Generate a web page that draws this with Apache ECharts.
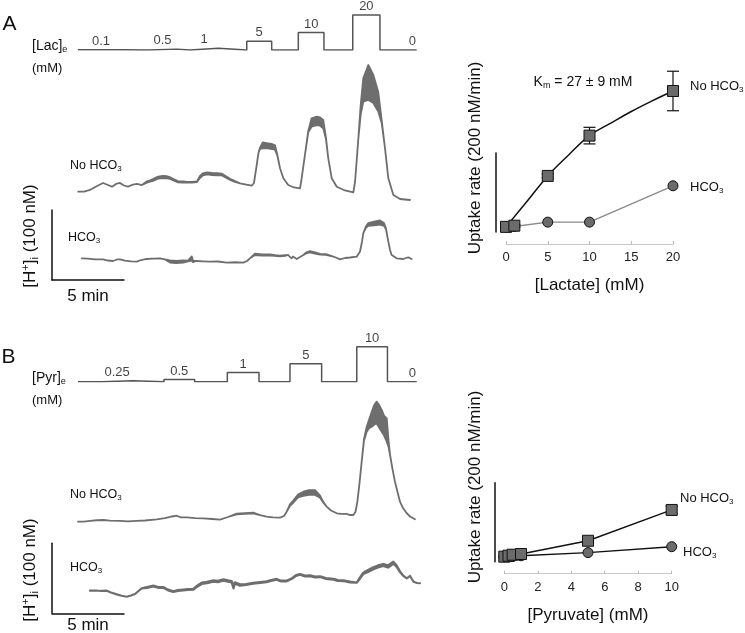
<!DOCTYPE html>
<html><head><meta charset="utf-8">
<script src="https://cdn.jsdelivr.net/npm/echarts/dist/echarts.min.js"></script>
<style>html,body{margin:0;padding:0;background:#fff}#c{width:745px;height:633px}</style>
</head><body><div id="c"></div>
<script>
// ---------- DATA ----------
// Panel A: lactate protocol (time in min, concentration in mM)
const lacStepTimes  = [0, 3.2, 4.88, 6.85, 7.78, 9.75, 11.72, 13.45, 15.3, 17.08, 19.08, 20.97, 23.52];
const lacStepLevels = [0.1, 0, 0.5, 0, 1, 0, 5, 0, 10, 0, 20, 0, 0];
const lacStepLabels = ['0.1', '', '0.5', '', '1', '', '5', '', '10', '', '20', '0'];
// Panel B: pyruvate protocol (drawn step heights)
const pyrStepTimes  = [0, 1.62, 3.82, 5.97, 8.1, 10.37, 12.57, 14.72, 16.92, 19.36, 21.49, 23.52];
const pyrStepLevels = [0, 0.3, 0, 0.6, 0, 2.6, 0, 5.1, 0, 10, 0, 0];
const pyrStepLabels = ['', '0.25', '', '0.5', '', '1', '', '5', '', '10', '0'];

// [H+]i traces: [time (min), [H+]i (nM, relative), noise half-band (nM)]
const lacNoHco3Trace = [[0.02,11.9,0],[0.42,12.1,0],[0.83,14.3,0],[1.32,20,0],[1.74,24.3,0],[2.08,21.4,0],[2.36,19,0],[2.64,22.9,0],[2.92,24.3,0],[3.19,20.7,0],[3.47,19,0],[3.82,22.1,0],[4.1,22.9,0],[4.44,21.4,0],[4.79,25.7,1],[5.0,27.1,1],[5.21,28.6,1.2],[5.56,31.9,1.5],[5.9,32.9,1.5],[6.18,32.4,1.5],[6.39,31.4,1.2],[6.67,28.6,1],[6.94,26.1,1],[7.29,25.7,1],[7.57,25.3,0.5],[7.92,25.3,0.5],[8.26,26.1,0.5],[8.47,32.9,1.5],[8.68,36.7,1.5],[8.96,38.1,1.5],[9.31,37.1,1.5],[9.65,36.7,1.5],[10.0,36.4,1.2],[10.28,32.9,1],[10.56,29.6,0.8],[10.9,26.4,0.5],[11.25,23.9,0],[11.6,22.4,0],[12.06,20.4,0],[12.22,24.3,0],[12.41,50,0],[12.53,67.1,0],[12.64,73.9,1],[12.83,78.1,4.3],[13.19,77.4,3.6],[13.47,76.4,3.6],[13.68,75,3.2],[13.84,64.3,0.5],[14.03,45.3,0],[14.26,31,0],[14.6,21.4,0],[15.0,17.9,0],[15.42,16.7,0],[15.53,31,0],[15.76,64.3,0],[15.99,97.6,1],[16.22,110.7,6],[16.58,113.1,6],[16.81,112.1,6],[17.03,108.3,6],[17.22,88.1,1],[17.38,59.6,0],[17.62,31,0],[17.97,19,0],[18.54,13.6,0],[19.12,11,0],[19.24,26.1,0],[19.47,88.1,0],[19.63,128.6,7],[19.81,157.1,16.7],[20.16,167.9,25],[20.51,158.6,20],[20.85,140.4,14],[21.09,111.9,2],[21.32,73.9,0],[21.55,31,0],[21.9,7.1,0],[22.36,1.4,0],[23.06,0,0]];
const lacHco3Trace = [[0.26,9.6,0],[0.69,9,0],[1.18,7.9,0],[1.74,8.1,0],[2.08,6.4,0],[2.43,5.7,0],[2.71,7.9,0],[2.92,8.1,0],[3.26,6.4,0],[3.68,5.3,0],[4.08,4.7,0],[4.38,7.1,0],[4.77,8.6,0],[5.21,9,0],[5.69,9.6,0],[6.04,7.9,0],[6.39,5,1.5],[6.81,4.3,1.5],[7.29,5,1.5],[7.64,5.7,0.5],[7.9,9.3,3],[7.99,5,1],[8.24,5.7,0],[8.68,5.3,0],[9.17,4.7,0],[9.72,5,0],[10.33,3.3,0],[10.9,3.9,0],[11.48,3.3,0],[11.74,5.7,0],[11.94,9.6,0],[12.29,15.3,1],[12.78,14.3,1],[13.33,14.3,1],[13.68,13.6,0.5],[14.03,12.9,0.5],[14.38,13.6,0.5],[14.6,14.3,0],[14.72,11.4,0],[14.84,9.6,0],[14.93,12.1,0],[15.19,8.6,0],[15.42,11.4,0],[15.65,14.3,0],[15.83,17.1,0.5],[16.11,19,1],[16.46,17.1,1],[16.81,15.3,0.5],[17.22,15,0.5],[17.73,11.9,0],[17.99,10,0],[18.19,8.1,0],[18.54,10,0],[18.89,10.7,0],[19.35,11.9,0],[19.58,19,0],[19.72,32.9,0],[19.81,45.3,0],[20.0,54.3,1],[20.16,57.9,2],[20.56,59.3,2.5],[20.97,60.7,3],[21.25,57.9,2],[21.39,51.4,0.5],[21.55,33.3,0],[21.67,21.4,0],[21.78,14.3,0],[22.13,9.6,0],[22.59,8.6,0],[22.78,10,0],[22.94,11,0],[23.17,8.6,0]];
const pyrNoHco3Trace = [[0,11.9,0],[0.42,12.1,0],[0.83,12.9,0],[1.32,13.9,0],[1.76,14.3,0],[2.22,13.3,0],[2.92,12.9,0],[3.47,12.4,0],[4.08,12.9,0],[4.65,13.6,0],[5.47,15.3,0],[6.04,17.1,0],[6.53,19.3,0],[6.85,20.4,0],[7.15,18.1,0],[7.55,18.1,0],[8.13,17.1,0],[8.7,16.7,0],[9.31,15.7,0],[9.86,14.7,0],[10.42,18.6,0],[11.02,22.9,0.5],[11.6,23.6,0.5],[12.17,24.3,0.5],[12.64,21.4,0],[13.1,19,0],[13.54,17.9,0],[14.03,17.6,0],[14.31,20,0],[14.49,26.1,0],[14.72,35.7,1],[14.95,40.4,1.5],[15.28,48.6,2],[15.65,51.7,3],[16.04,53.6,3.5],[16.46,53.6,3.5],[16.81,47.6,1.5],[17.01,40.4,0.5],[17.27,33.3,0],[17.57,27.9,0],[17.97,23.9,0],[18.26,22.9,0],[18.66,22.9,0],[18.89,21.4,0],[19.12,21.4,0],[19.27,26.1,0],[19.4,40.4,0],[19.55,67.1,0],[19.7,97.6,0],[19.86,128.6,1],[20.05,144,3.6],[20.21,151.4,6],[20.4,158.3,10.7],[20.56,164.3,14],[20.74,167.9,15.5],[20.9,162.9,16],[21.09,156,15.5],[21.25,149.3,14],[21.44,142.9,16.7],[21.56,124.3,5],[21.67,107.1,0],[21.84,87.1,0],[22.01,69,0],[22.19,54.3,0],[22.36,40.4,0],[22.57,31.4,0],[22.83,23.9,0],[23.06,19.3,0],[23.4,15.3,0]];
const pyrHco3Trace = [[0.83,13.3,0],[1.25,13.6,0],[1.6,12.9,0],[1.99,13.3,0],[2.29,10.7,0],[2.69,8.1,0],[3.03,6.1,0],[3.38,4.7,0],[3.68,6.4,0],[3.96,8.6,0],[4.2,12.9,0],[4.42,16.7,0],[4.79,17.9,0.5],[5.23,20,0.5],[5.56,17.9,0.5],[5.92,18.1,0.5],[6.25,14.3,0.5],[6.62,11.9,0.5],[6.94,13.6,0.5],[7.31,14.3,0.5],[7.64,15,0.5],[8.01,15.3,0.5],[8.3,20,1],[8.59,23.9,1],[8.96,25,1],[9.4,27.1,1],[9.72,26.4,1],[10.09,28.6,1],[10.42,27.1,1],[10.67,26.1,1],[10.8,18.6,2],[10.9,24.3,1],[11.25,21.4,1],[11.67,22.1,0.5],[12.17,23.9,0.5],[12.64,25,0.5],[13.1,26.1,0.5],[13.4,27.9,0.5],[13.8,29.6,0.5],[14.1,27.1,0.5],[14.49,27.1,0.5],[14.86,30.7,0.5],[15.14,35,0.5],[15.42,36.7,0.5],[15.76,34.3,0.5],[16.11,34.7,0.5],[16.46,32.9,0.5],[16.81,33.3,0.5],[17.22,30.7,0.5],[17.73,29.6,0.5],[18.06,27.9,0.5],[18.42,27.6,0.5],[18.89,25.7,0.5],[19.35,24.7,0],[19.58,31.4,1],[19.81,38.1,1],[20.14,41.4,1.5],[20.51,45.3,1.5],[20.83,47.9,1.5],[21.2,50,1.5],[21.53,47.9,1.5],[21.9,53.3,1.5],[22.12,48.6,1],[22.36,40.4,0.5],[22.57,35,0],[22.83,31,0],[23.06,34.3,0],[23.3,26.1,0],[23.54,24.3,0],[23.75,23.9,0]];

// Uptake rate vs concentration (nM/min)
const lacConc = [0, 1, 5, 10, 20];
const lacNoHco3Rate = [13, 16, 142, 244, 357];
const lacNoHco3Err  = [3, 3, 5, 21, 50];
const lacHco3Rate   = [13, 14, 25, 25, 117];
const lacTicks = [0, 5, 10, 15, 20];
// Km fit curve as drawn in the figure
const lacFitConc = [0, 2.5, 5, 7.5, 10, 12.5, 15, 17.5, 20];
const lacFitRate = [13, 77, 142, 195, 244, 275, 305, 332, 357];

const pyrConc = [0, 0.25, 0.5, 1, 5, 10];
const pyrNoHco3Rate = [12.7, 15.2, 17.7, 19.5, 53, 131];
const pyrNoHco3Err  = [2, 2, 2, 2, 6, 10];
const pyrHco3Rate   = [12.7, 12.7, 13, 15, 23, 38];
const pyrTicks = [0, 2, 4, 6, 8, 10];

// ---------- CHART ----------
const FF = '"Liberation Sans", Arial, sans-serif';
const TRACE = '#6e6e6e';
const chart = echarts.init(document.getElementById('c'), null, {renderer: 'canvas'});

const X0 = 78, PXMIN = 14.4, TMAX = 24;
const grids = [
  {left: X0, top: 8, width: TMAX*PXMIN, height: 42},        // 0 A step
  {left: X0, top: 60, width: TMAX*PXMIN, height: 147},      // 1 A no HCO3
  {left: X0, top: 216, width: TMAX*PXMIN, height: 56},      // 2 A HCO3
  {left: 52, top: 210, width: 72, height: 70},              // 3 A scale bar
  {left: 506, top: 58.2, width: 167, height: 173.8},        // 4 lactate plot
  {left: 495.7, top: 153, width: 10, height: 79},           // 5 lactate scale bar
  {left: X0, top: 339.7, width: TMAX*PXMIN, height: 42},    // 6 B step
  {left: X0, top: 390, width: TMAX*PXMIN, height: 147},     // 7 B no HCO3
  {left: X0, top: 551, width: TMAX*PXMIN, height: 56},      // 8 B HCO3
  {left: 52, top: 543.3, width: 72, height: 70},            // 9 B scale bar
  {left: 504.3, top: 387.9, width: 167.4, height: 173.8},   // 10 pyruvate plot
  {left: 494.3, top: 482.7, width: 10, height: 79}          // 11 pyr scale bar
];

const hid = (g, min, max) => ({gridIndex: g, type: 'value', show: false, min, max});
const barAxis = (g, min, max) => ({gridIndex: g, type: 'value', min, max,
  axisLine: {show: true, onZero: false, lineStyle: {color: '#111', width: 1.5}},
  axisTick: {show: false}, axisLabel: {show: false}, splitLine: {show: false}});
const plotX = (g, max, interval, name) => ({gridIndex: g, type: 'value', min: 0, max, interval, offset: 12,
  axisLine: {show: true, onZero: false, lineStyle: {color: '#c8c8c8', width: 1}},
  axisTick: {show: true, inside: true, length: 3, lineStyle: {color: '#bbb'}},
  axisLabel: {fontSize: 13, color: '#222', fontFamily: FF, margin: 7},
  splitLine: {show: false},
  name, nameLocation: 'middle', nameGap: 33, nameTextStyle: {fontSize: 17, color: '#111', fontFamily: FF}});

const xAxes = [
  hid(0, 0, TMAX), hid(1, 0, TMAX), hid(2, 0, TMAX),
  barAxis(3, 0, 5),
  plotX(4, lacTicks[lacTicks.length-1], lacTicks[1]-lacTicks[0], '[Lactate] (mM)'),
  hid(5, 0, 1),
  hid(6, 0, TMAX), hid(7, 0, TMAX), hid(8, 0, TMAX),
  barAxis(9, 0, 5),
  plotX(10, pyrTicks[pyrTicks.length-1], pyrTicks[1]-pyrTicks[0], '[Pyruvate] (mM)'),
  hid(11, 0, 1)
];
const yAxes = [
  hid(0, 0, 24), hid(1, -10, 200), hid(2, -10, 70),
  barAxis(3, 0, 100),
  hid(4, 0, 440),
  barAxis(5, 0, 200),
  hid(6, 0, 12), hid(7, -10, 200), hid(8, -10, 70),
  barAxis(9, 0, 100),
  hid(10, 0, 440),
  barAxis(11, 0, 200)
];

function stepSeries(g, times, levels) {
  return {type: 'line', xAxisIndex: g, yAxisIndex: g, step: 'end', symbol: 'none', silent: true,
    data: times.map((t, i) => [t, levels[i]]),
    lineStyle: {color: '#555', width: 1.5}};
}
function stepLabelSeries(g, times, levels, labels) {
  const n = labels.length;
  const data = [];
  labels.forEach((lab, i) => {
    if (!lab) return;
    const t = (i === n - 1) ? times[i + 1] - 0.3 : (times[i] + times[i + 1]) / 2;
    data.push({value: [t, levels[i]], name: lab});
  });
  return {type: 'scatter', xAxisIndex: g, yAxisIndex: g, symbolSize: 0, silent: true, data,
    label: {show: true, position: 'top', distance: 2, formatter: p => p.name,
      fontSize: 13, color: '#111', fontFamily: FF}};
}
function bandSeries(g, trace, lw) {
  return {type: 'custom', xAxisIndex: g, yAxisIndex: g, coordinateSystem: 'cartesian2d',
    data: trace, clip: false, silent: true, encode: {x: 0, y: 1},
    renderItem: function (params, api) {
      if (params.dataIndex !== 0) return null;
      const up = [], lo = [];
      trace.forEach(p => { up.push(api.coord([p[0], p[1] + p[2]])); lo.push(api.coord([p[0], p[1] - p[2]])); });
      return {type: 'polygon', shape: {points: up.concat(lo.reverse())},
        style: {fill: TRACE, stroke: TRACE, lineWidth: lw, lineJoin: 'round'}};
    }};
}
function errSeries(g, xs, ys, es) {
  return {type: 'custom', xAxisIndex: g, yAxisIndex: g, silent: true, z: 1, clip: false,
    data: xs.map((x, i) => [x, ys[i], es[i]]), encode: {x: 0, y: 1},
    renderItem: function (params, api) {
      const x = api.value(0), y = api.value(1), e = api.value(2);
      const a = api.coord([x, y + e]), b = api.coord([x, y - e]);
      const w = 6, st = {stroke: '#111', lineWidth: 1.2};
      return {type: 'group', children: [
        {type: 'line', shape: {x1: a[0], y1: a[1], x2: b[0], y2: b[1]}, style: st},
        {type: 'line', shape: {x1: a[0] - w, y1: a[1], x2: a[0] + w, y2: a[1]}, style: st},
        {type: 'line', shape: {x1: b[0] - w, y1: b[1], x2: b[0] + w, y2: b[1]}, style: st}
      ]};
    }};
}
const MK = {color: '#6b6b6b', borderColor: '#111', borderWidth: 1};
function rateSeries(g, xs, ys, symbol, lineColor, z, noLine) {
  return {type: 'line', xAxisIndex: g, yAxisIndex: g, silent: true, z,
    data: xs.map((x, i) => [x, ys[i]]), symbol, symbolSize: symbol === 'rect' ? 11 : 10,
    showAllSymbol: true, clip: false,
    lineStyle: {color: lineColor, width: noLine ? 0 : 1.4, opacity: noLine ? 0 : 1}, itemStyle: MK};
}
function curveSeries(g, xs, ys) {
  return {type: 'line', xAxisIndex: g, yAxisIndex: g, silent: true, z: 2, symbol: 'none',
    smooth: 0.4, data: xs.map((x, i) => [x, ys[i]]), lineStyle: {color: '#111', width: 1.5}};
}

const series = [
  stepSeries(0, lacStepTimes, lacStepLevels),
  stepLabelSeries(0, lacStepTimes, lacStepLevels, lacStepLabels),
  bandSeries(1, lacNoHco3Trace, 1.8),
  bandSeries(2, lacHco3Trace, 1.8),
  rateSeries(4, lacConc, lacHco3Rate, 'circle', '#8a8a8a', 2),
  curveSeries(4, lacFitConc, lacFitRate),
  errSeries(4, lacConc, lacNoHco3Rate, lacNoHco3Err),
  rateSeries(4, lacConc, lacNoHco3Rate, 'rect', '#111', 3, true),
  stepSeries(6, pyrStepTimes, pyrStepLevels),
  stepLabelSeries(6, pyrStepTimes, pyrStepLevels, pyrStepLabels),
  bandSeries(7, pyrNoHco3Trace, 1.8),
  bandSeries(8, pyrHco3Trace, 2.2),
  rateSeries(10, pyrConc, pyrHco3Rate, 'circle', '#111', 2),
  errSeries(10, pyrConc, pyrNoHco3Rate, pyrNoHco3Err),
  rateSeries(10, pyrConc, pyrNoHco3Rate, 'rect', '#111', 3)
];

const RICH = (fs) => ({
  sub: {fontSize: Math.round(fs * 0.62), fontFamily: FF, color: '#111', padding: [Math.round(fs * 0.5), 0, 0, 0]},
  sup: {fontSize: Math.round(fs * 0.62), fontFamily: FF, color: '#111', padding: [0, 0, Math.round(fs * 0.5), 0]}
});
function T(x, y, text, fs, align, rot) {
  return {type: 'text', x, y, rotation: rot || 0, silent: true,
    style: {text, fontSize: fs, fontFamily: FF, fill: '#111',
      align: align || 'left', verticalAlign: 'middle', textAlign: align || 'left', textVerticalAlign: 'middle',
      rich: RICH(fs)}};
}

const graphics = [
  T(9.5, 24.5, 'A', 21, 'center'),
  T(8.5, 357.5, 'B', 21, 'center'),
  T(32, 46, '[Lac]{sub|e}', 14),
  T(32, 68, '(mM)', 13),
  T(32, 378, '[Pyr]{sub|e}', 14),
  T(32, 400, '(mM)', 13),
  T(70, 166, 'No HCO{sub|3}', 12.5),
  T(68, 238, 'HCO{sub|3}', 12.5),
  T(70, 495, 'No HCO{sub|3}', 12.5),
  T(70, 568, 'HCO{sub|3}', 12.5),
  T(88, 296, '5 min', 17, 'center'),
  T(88, 625, '5 min', 17, 'center'),
  T(30, 236, '[H{sup|+}]{sub|i} (100 nM)', 17, 'center', Math.PI / 2),
  T(30, 570, '[H{sup|+}]{sub|i} (100 nM)', 17, 'center', Math.PI / 2),
  T(475, 158, 'Uptake rate (200 nM/min)', 17, 'center', Math.PI / 2),
  T(475, 487, 'Uptake rate (200 nM/min)', 17, 'center', Math.PI / 2),
  T(583, 82, 'K{sub|m} = 27 \u00b1 9 mM', 14, 'center'),
  T(690, 86, 'No HCO{sub|3}', 13),
  T(690, 187, 'HCO{sub|3}', 13),
  T(680, 498, 'No HCO{sub|3}', 13),
  T(683, 552, 'HCO{sub|3}', 13)
];

chart.setOption({
  animation: false,
  backgroundColor: '#fff',
  grid: grids,
  xAxis: xAxes,
  yAxis: yAxes,
  series,
  graphic: graphics
});
</script></body></html>
